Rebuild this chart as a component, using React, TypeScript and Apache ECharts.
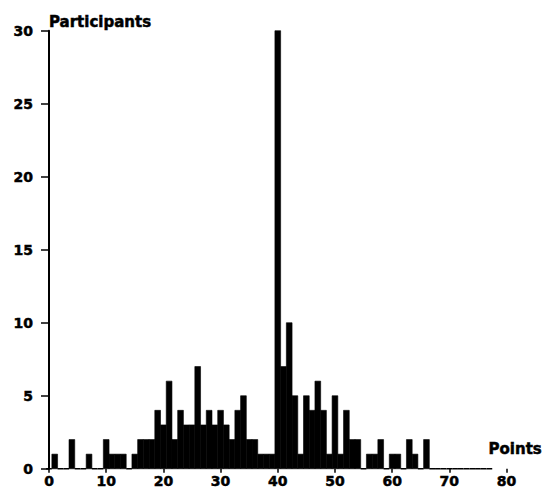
import React, { useEffect, useRef } from "react";
import * as echarts from "echarts";

// Histogram bins: point value (bin centre) -> number of participants
const binPoints = [
  0, 1, 2, 3, 4, 5, 6, 7, 8, 9, 10, 11, 12, 13, 14, 15, 16, 17, 18, 19, 20, 21, 22, 23, 24, 25, 26, 27, 28, 29,
  30, 31, 32, 33, 34, 35, 36, 37, 38, 39, 40, 41, 42, 43, 44, 45, 46, 47, 48, 49, 50, 51, 52, 53, 54, 55, 56, 57, 58, 59,
  60, 61, 62, 63, 64, 65, 66, 67, 68, 69, 70, 71, 72, 73, 74, 75, 76, 77,
];
const participants = [
  0, 1, 0, 0, 2, 0, 0, 1, 0, 0, 2, 1, 1, 1, 0, 1, 2, 2, 2, 4, 3, 6, 2, 4, 3, 3, 7, 3, 4, 3,
  4, 3, 2, 4, 5, 2, 2, 1, 1, 1, 30, 7, 10, 5, 1, 5, 4, 6, 4, 1, 5, 1, 4, 2, 2, 0, 1, 1, 2, 0,
  1, 1, 0, 2, 1, 0, 2, 0, 0, 0, 0, 0, 0, 0, 0, 0, 0, 0,
];
const xTicks = { min: 0, max: 80, interval: 10 };
const yTicks = { min: 0, max: 30, interval: 5 };
const xName = "Points";
const yName = "Participants";

const FONT = "'DejaVu Sans', sans-serif";
const heavy = { textBorderColor: "#000", textBorderWidth: 0.5 };

export default function App() {
  const ref = useRef<HTMLDivElement>(null);
  useEffect(() => {
    if (!ref.current) return;
    const chart = echarts.init(ref.current, null, { renderer: "svg", width: 545, height: 488 });
    const data = binPoints.map((p, i) => [p, participants[i]]);
    chart.setOption({
      animation: false,
      backgroundColor: "#fff",
      grid: { left: 49, right: 31, top: 30.7, bottom: 18.7, containLabel: false },
      xAxis: {
        type: "value",
        min: xTicks.min,
        max: xTicks.max,
        interval: xTicks.interval,
        name: xName,
        nameLocation: "end",
        nameGap: -18,
        nameTextStyle: {
          color: "#000",
          fontFamily: FONT,
          fontWeight: "bold",
          fontSize: 15,
          align: "left",
          verticalAlign: "bottom",
          padding: [0, 0, 12, 0],
          ...heavy,
        },
        axisLine: { show: false },
        axisTick: { show: true, length: 4, lineStyle: { color: "#000", width: 1.5 } },
        axisLabel: { color: "#000", fontFamily: FONT, fontWeight: "bold", fontSize: 14, margin: 5, ...heavy },
        splitLine: { show: false },
      },
      yAxis: {
        type: "value",
        min: yTicks.min,
        max: yTicks.max,
        interval: yTicks.interval,
        offset: 3,
        name: yName,
        nameLocation: "end",
        nameGap: 1,
        nameTextStyle: {
          color: "#000",
          fontFamily: FONT,
          fontWeight: "bold",
          fontSize: 15,
          align: "left",
          verticalAlign: "bottom",
          ...heavy,
        },
        axisLine: { show: true, lineStyle: { color: "#000", width: 2 } },
        axisTick: { show: true, length: 8, lineStyle: { color: "#000", width: 1.5 } },
        axisLabel: { color: "#000", fontFamily: FONT, fontWeight: "bold", fontSize: 14, margin: 13, ...heavy },
        splitLine: { show: false },
      },
      series: [
        {
          type: "custom",
          data,
          clip: false,
          renderItem: (params: any, api: any) => {
            const v = api.value(0);
            const c = api.value(1);
            const p0 = api.coord([v - 0.5, 0]);
            const p1 = api.coord([v + 0.5, c]);
            if (c === 0) {
              return {
                type: "line",
                shape: { x1: p0[0], y1: p0[1], x2: p1[0], y2: p0[1] },
                style: { stroke: "#000", lineWidth: 1.5 },
              };
            }
            return {
              type: "rect",
              shape: { x: p0[0], y: p1[1], width: p1[0] - p0[0], height: p0[1] - p1[1] },
              style: { fill: "#000", stroke: "#000", lineWidth: 0.6 },
            };
          },
        },
      ],
    });
    return () => chart.dispose();
  }, []);
  return <div ref={ref} style={{ position: "absolute", left: 0, top: 0, width: 545, height: 488 }} />;
}
